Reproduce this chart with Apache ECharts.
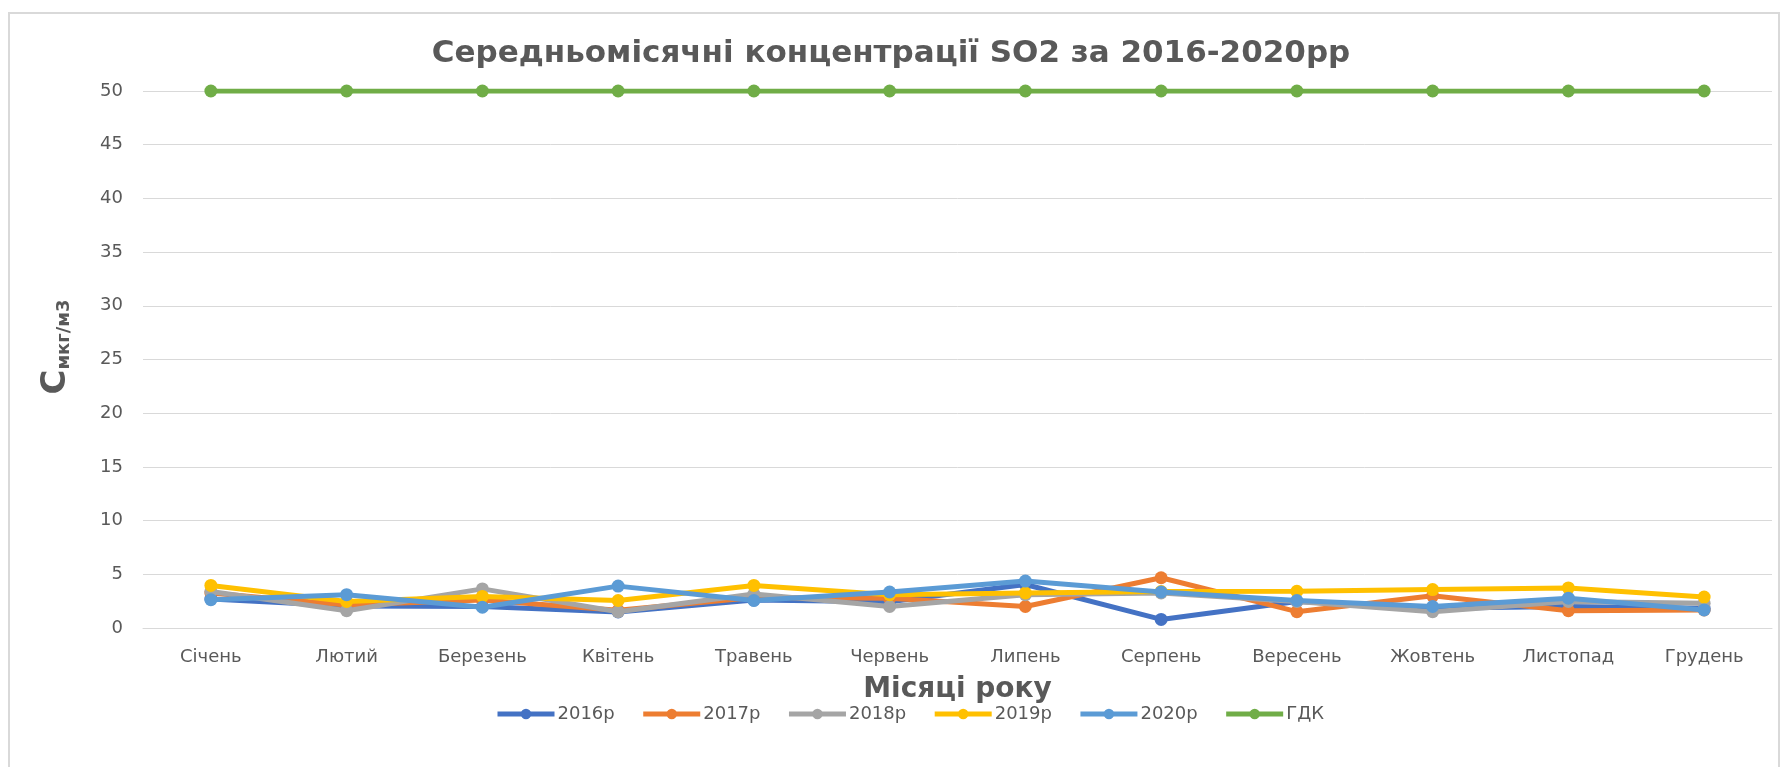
<!DOCTYPE html>
<html>
<head>
<meta charset="utf-8">
<title>SO2 2016-2020</title>
<script src="https://cdn.jsdelivr.net/npm/echarts@6/dist/echarts.min.js"></script>
<style>
  html, body { margin: 0; padding: 0; background: #fff; }
  #chart { width: 1782px; height: 767px; }
</style>
</head>
<body>
<div id="chart"></div>
<script>
// дані з графіка (мкг/м3)
const months = ['Січень', 'Лютий', 'Березень', 'Квітень', 'Травень', 'Червень',
  'Липень', 'Серпень', 'Вересень', 'Жовтень', 'Листопад', 'Грудень'];
const yTicks = [0, 5, 10, 15, 20, 25, 30, 35, 40, 45, 50];

const y2016 = [2.7, 2.05, 2.0, 1.5, 2.6, 2.45, 4.05, 0.8, 2.47, 1.84, 2.0, 1.84];
const y2017 = [3.25, 2.15, 2.6, 1.65, 2.85, 2.78, 2.0, 4.68, 1.52, 3.0, 1.61, 1.68];
const y2018 = [3.4, 1.61, 3.64, 1.52, 3.16, 2.0, 3.1, 3.26, 2.47, 1.52, 2.47, 2.3];
const y2019 = [3.96, 2.47, 2.94, 2.56, 3.96, 3.1, 3.26, 3.4, 3.42, 3.58, 3.73, 2.88];
const y2020 = [2.63, 3.1, 1.93, 3.9, 2.56, 3.35, 4.37, 3.35, 2.56, 2.0, 2.78, 1.68];
const gdk = [50, 50, 50, 50, 50, 50, 50, 50, 50, 50, 50, 50];

const seriesNames = ['2016р', '2017р', '2018р', '2019р', '2020р', 'ГДК'];
const seriesData = [y2016, y2017, y2018, y2019, y2020, gdk];
const colors = ['#4472C4', '#ED7D31', '#A5A5A5', '#FFC000', '#5B9BD5', '#70AD47'];

const font = 'DejaVu Sans';
const textColor = '#595959';

const chart = echarts.init(document.getElementById('chart'));

const series = seriesNames.map((name, i) => ({
  name: name,
  type: 'line',
  data: seriesData[i],
  color: colors[i],
  symbol: 'circle',
  symbolSize: 13,
  lineStyle: { width: 5 },
  z: 2 + i
}));

const option = {
  backgroundColor: '#fff',
  animation: false,
  textStyle: { fontFamily: font },
  // рамка області діаграми
  graphic: [{
    type: 'rect',
    shape: { x: 9, y: 13, width: 1770, height: 780 },
    style: { fill: 'none', stroke: '#d9d9d9', lineWidth: 2 },
    silent: true
  }],
  title: {
    text: 'Середньомісячні концентрації SO2 за 2016-2020рр',
    left: 'center',
    top: 33,
    textStyle: { fontFamily: font, fontSize: 31, fontWeight: 'bold', color: textColor }
  },
  legend: {
    data: seriesNames,
    left: 490,
    top: 700,
    itemWidth: 57,
    itemHeight: 13,
    itemGap: 26,
    lineStyle: { width: 5 },
    textStyle: { fontFamily: font, fontSize: 18, color: textColor, padding: [0, 0, 0, -2] }
  },
  grid: { left: 143, right: 10, top: 91, bottom: 139 },
  xAxis: {
    type: 'category',
    data: months,
    boundaryGap: true,
    name: 'Місяці року',
    nameLocation: 'middle',
    nameGap: 48,
    nameTextStyle: { fontFamily: font, fontSize: 28, fontWeight: 'bold', color: textColor },
    axisTick: { show: false },
    axisLine: { lineStyle: { color: '#d9d9d9', width: 1 } },
    axisLabel: { margin: 20, fontSize: 18, color: textColor, fontFamily: font }
  },
  yAxis: {
    type: 'value',
    min: yTicks[0],
    max: yTicks[yTicks.length - 1],
    interval: yTicks[1] - yTicks[0],
    name: '{big|С}{small|мкг/м3}',
    nameLocation: 'middle',
    nameRotate: 90,
    nameGap: 70,
    nameTextStyle: {
      padding: [0, 0, 0, 25],
      rich: {
        big: { fontFamily: font, fontSize: 34, fontWeight: 'bold', color: textColor, lineHeight: 38, verticalAlign: 'bottom' },
        small: { fontFamily: font, fontSize: 18, fontWeight: 'bold', color: textColor, lineHeight: 38, verticalAlign: 'bottom' }
      }
    },
    axisLine: { show: false },
    axisTick: { show: false },
    splitLine: { lineStyle: { color: '#d9d9d9', width: 1 } },
    axisLabel: { margin: 20, fontSize: 18, color: textColor, fontFamily: font }
  },
  series: series
};

chart.setOption(option);
</script>
</body>
</html>
